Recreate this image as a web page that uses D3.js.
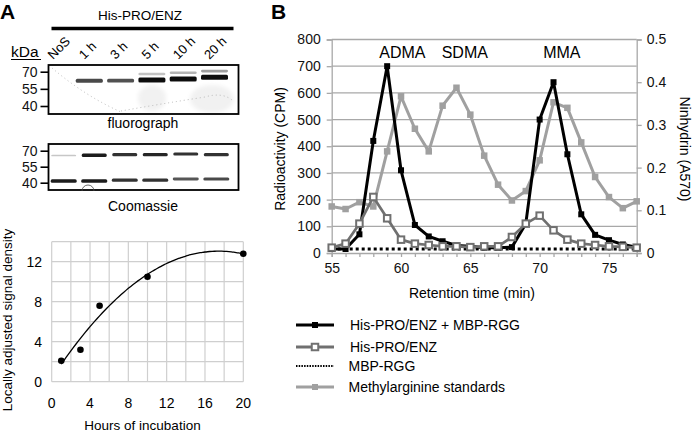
<!DOCTYPE html>
<html>
<head>
<meta charset="utf-8">
<script src="https://cdn.jsdelivr.net/npm/d3@7"></script>
<style>
    body { margin: 0; background: #fff; }
    svg { font-family: "Liberation Sans", Arial, sans-serif; }
</style>
</head>
<body>
<div id="fig"></div>
<script>
// ---- panel B: HPLC of amino acids ----
var minutes = [55, 56, 57, 58, 59, 60, 61, 62, 63, 64, 65, 66, 67, 68, 69, 70, 71, 72, 73, 74, 75, 76, 77];
var enzRgg = [15, 15, 70, 420, 700, 310, 105, 62, 44, 28, 25, 20, 20, 22, 110, 500, 640, 370, 145, 68, 48, 32, 22];
var enzOnly = [20, 35, 110, 210, 130, 50, 35, 30, 25, 25, 22, 25, 25, 60, 110, 140, 85, 50, 35, 30, 25, 23, 20];
var rggOnly = [15, 15, 15, 15, 15, 15, 15, 15, 15, 15, 15, 15, 15, 15, 15, 15, 15, 15, 15, 15, 15, 15, 15];
var standards = [0.109, 0.103, 0.119, 0.109, 0.238, 0.367, 0.291, 0.238, 0.345, 0.387, 0.324, 0.228, 0.16, 0.123, 0.145, 0.217, 0.353, 0.34, 0.259, 0.178, 0.131, 0.105, 0.121];
var peakNames = ["ADMA", "SDMA", "MMA"];
var peakTimes = [60.1, 64.6, 71.6];
var cpmTicks = [0, 100, 200, 300, 400, 500, 600, 700, 800];
var a570Ticks = [0, 0.1, 0.2, 0.3, 0.4, 0.5];
var timeTicks = [55, 60, 65, 70, 75];
var legendNames = ["His-PRO/ENZ + MBP-RGG", "His-PRO/ENZ", "MBP-RGG", "Methylarginine standards"];

// ---- panel A: gels ----
var lanes = ["NoS", "1 h", "3 h", "5 h", "10 h", "20 h"];
var kDaTicks = [70, 55, 40];
var fluoroMainKDa = [null, 62.1, 62.1, 62.7, 63.6, 65.1];
var fluoroMainInt = [0, 0.75, 0.72, 1, 1, 1];
var fluoroUpperKDa = [null, null, null, 68, 69.1, 70.6];
var fluoroUpperInt = [0, 0, 0, 0.22, 0.28, 0.38];
var coomUpperKDa = [65.5, 65.7, 66.3, 66.3, 66.9, 66.3];
var coomUpperInt = [0.2, 0.95, 0.85, 0.9, 0.85, 0.85];
var coomLowerKDa = [41.6, 41.6, 42.5, 42.5, 43.5, 43.5];
var coomLowerInt = [0.95, 0.95, 0.85, 0.85, 0.7, 0.75];

// ---- panel A: densitometry ----
var hours = [1, 3, 5, 10, 20];
var density = [2.1, 3.2, 7.6, 10.5, 12.8];
var hourTicks = [0, 4, 8, 12, 16, 20];
var densityTicks = [0, 4, 8, 12];

var W = 693, H = 434;
var svg = d3.select("#fig").append("svg")
    .attr("width", W)
    .attr("height", H);

var defs = svg.append("defs");
defs.append("filter").attr("id", "soft")
    .attr("x", "-20%").attr("y", "-100%").attr("width", "140%").attr("height", "300%")
    .append("feGaussianBlur").attr("stdDeviation", 0.6);
defs.append("filter").attr("id", "haze")
    .attr("x", "-30%").attr("y", "-30%").attr("width", "160%").attr("height", "160%")
    .append("feGaussianBlur").attr("stdDeviation", 2);

// panel letters
svg.append("text").attr("x", 0).attr("y", 19).style("font-size", "21px").style("font-weight", "bold").text("A");
svg.append("text").attr("x", 271).attr("y", 19).style("font-size", "21px").style("font-weight", "bold").text("B");

// =================== PANEL B ===================
var bx = d3.scaleLinear().domain([55, 77]).range([331.7, 636.7]);
var byL = d3.scaleLinear().domain([0, 800]).range([253, 39.5]);
var byR = d3.scaleLinear().domain([0, 0.5]).range([253, 39.5]);
var gridCol = "#a8a8a8";

var gB = svg.append("g");

// gridlines
gB.selectAll(".gridB")
    .data(cpmTicks.filter(function (d) { return d > 0; }))
    .enter().append("line")
    .attr("x1", bx(55)).attr("x2", bx(77))
    .attr("y1", function (d) { return byL(d); })
    .attr("y2", function (d) { return byL(d); })
    .attr("stroke", gridCol).attr("stroke-width", 1.3);

var axL = gB.append("g")
    .attr("transform", "translate(" + bx(55) + ",0)")
    .call(d3.axisLeft(byL).tickValues(cpmTicks).tickSize(5).tickPadding(6));
var axR = gB.append("g")
    .attr("transform", "translate(" + bx(77) + ",0)")
    .call(d3.axisRight(byR).tickValues(a570Ticks).tickSize(5).tickPadding(5)
        .tickFormat(function (d) { return d === 0 ? "0" : d3.format(".1f")(d); }));
var axB = gB.append("g")
    .attr("transform", "translate(0," + byL(0) + ")")
    .call(d3.axisBottom(bx).tickValues(minutes).tickSize(4).tickPadding(6)
        .tickFormat(function (d) { return timeTicks.indexOf(d) >= 0 ? d : ""; }));

[axL, axR, axB].forEach(function (ax) {
    ax.select(".domain").attr("stroke", gridCol).attr("stroke-width", 1.3);
    ax.selectAll(".tick line").attr("stroke", gridCol).attr("stroke-width", 1.3);
    ax.selectAll(".tick text").style("font-size", "14px").attr("fill", "#111");
    ax.attr("font-family", null);
});

gB.append("text")
    .attr("transform", "translate(285,149) rotate(-90)")
    .attr("text-anchor", "middle")
    .style("font-size", "14px")
    .text("Radioactivity (CPM)");
gB.append("text")
    .attr("transform", "translate(680,149) rotate(90)")
    .attr("text-anchor", "middle")
    .style("font-size", "14px")
    .text("Ninhydrin (A570)");
gB.append("text")
    .attr("x", 472).attr("y", 298)
    .attr("text-anchor", "middle")
    .style("font-size", "14px")
    .text("Retention time (min)");

gB.selectAll(".peak")
    .data(peakNames)
    .enter().append("text")
    .attr("x", function (d, i) { return bx(peakTimes[i]); })
    .attr("y", 58)
    .attr("text-anchor", "middle")
    .style("font-size", "16px")
    .text(function (d) { return d; });

var colBlack = "#000", colOpen = "#707070", colStd = "#a0a0a0";

function drawSeries(vals, yScale, col, width, dash) {
    var line = d3.line()
        .x(function (d, i) { return bx(minutes[i]); })
        .y(function (d) { return yScale(d); });
    gB.append("path")
        .datum(vals)
        .attr("d", line)
        .attr("fill", "none")
        .attr("stroke", col)
        .attr("stroke-width", width)
        .attr("stroke-linejoin", "round")
        .attr("stroke-dasharray", dash || null);
}

function drawMarkers(vals, yScale, size, fill, stroke, sw) {
    gB.append("g").selectAll("rect")
        .data(vals)
        .enter().append("rect")
        .attr("x", function (d, i) { return bx(minutes[i]) - size / 2; })
        .attr("y", function (d) { return yScale(d) - size / 2; })
        .attr("width", size).attr("height", size)
        .attr("fill", fill)
        .attr("stroke", stroke || "none")
        .attr("stroke-width", sw || 0);
}

drawSeries(standards, byR, colStd, 3);
drawMarkers(standards, byR, 6.5, colStd);
drawSeries(rggOnly, byL, colBlack, 3, "3,3");
drawSeries(enzRgg, byL, colBlack, 3);
drawMarkers(enzRgg, byL, 6, colBlack);
drawSeries(enzOnly, byL, colOpen, 2.7);
drawMarkers(enzOnly, byL, 6.5, "#fff", colOpen, 2);

// legend
var legY = [325, 347, 366, 387];
var lg = svg.append("g");
legendNames.forEach(function (name, i) {
    var y = legY[i];
    var col = [colBlack, colOpen, colBlack, colStd][i];
    var l = lg.append("line")
        .attr("x1", 296).attr("x2", 334)
        .attr("y1", y).attr("y2", y)
        .attr("stroke", col);
    if (i === 2) {
        l.attr("stroke-width", 2).attr("stroke-dasharray", "1.5,1.2");
    } else {
        l.attr("stroke-width", 3);
        var s = (i === 1) ? 6.5 : 6;
        lg.append("rect")
            .attr("x", 315 - s / 2).attr("y", y - s / 2)
            .attr("width", s).attr("height", s)
            .attr("fill", i === 1 ? "#fff" : col)
            .attr("stroke", i === 1 ? colOpen : "none")
            .attr("stroke-width", 2);
    }
    lg.append("text")
        .attr("x", i < 2 ? 350 : 348.5)
        .attr("y", y + 5)
        .style("font-size", "14px")
        .text(name);
});

// =================== PANEL A: gels ===================
var gA = svg.append("g");

gA.append("text")
    .attr("x", 140).attr("y", 20)
    .attr("text-anchor", "middle")
    .style("font-size", "13.5px")
    .text("His-PRO/ENZ");
gA.append("line")
    .attr("x1", 51.5).attr("x2", 233.5)
    .attr("y1", 28.5).attr("y2", 28.5)
    .attr("stroke", "#000").attr("stroke-width", 3.5);

var laneX1 = d3.scalePoint().domain(lanes).range([58, 214.5]);
var laneX2 = d3.scalePoint().domain(lanes).range([63.7, 216.3]);

gA.selectAll(".laneLab")
    .data(lanes)
    .enter().append("text")
    .attr("transform", function (d) {
        return "translate(" + (laneX1(d) - 5) + ",60) rotate(-45)";
    })
    .style("font-size", "13px")
    .text(function (d) { return d; });

gA.append("text")
    .attr("x", 11).attr("y", 57)
    .style("font-size", "15.5px")
    .text("kDa");
gA.append("line")
    .attr("x1", 11).attr("x2", 41)
    .attr("y1", 59.5).attr("y2", 59.5)
    .attr("stroke", "#000").attr("stroke-width", 1);

function gel(yTop, yBot, kScale, caption, capY) {
    var g = gA.append("g");
    g.append("rect")
        .attr("x", 48.5).attr("y", yTop)
        .attr("width", 190).attr("height", yBot - yTop)
        .attr("fill", "#fff");
    var ax = g.append("g")
        .attr("transform", "translate(48.5,0)")
        .call(d3.axisLeft(kScale).tickValues(kDaTicks).tickSize(8).tickPadding(3));
    ax.select(".domain").remove();
    ax.selectAll(".tick line").attr("stroke", "#000").attr("stroke-width", 1.6);
    ax.selectAll(".tick text").style("font-size", "14px").attr("fill", "#111");
    ax.attr("font-family", null);
    gA.append("text")
        .attr("x", 143).attr("y", capY)
        .attr("text-anchor", "middle")
        .style("font-size", "14px")
        .text(caption);
    return g;
}

function bands(g, laneScale, kScale, kDa, inten, bw, base, extra) {
    g.append("g").attr("filter", "url(#soft)")
        .selectAll("rect")
        .data(lanes.filter(function (d, i) { return kDa[i] !== null && inten[i] > 0; }))
        .enter().append("rect")
        .attr("x", function (d) { return laneScale(d) - bw / 2; })
        .attr("y", function (d) {
            var i = lanes.indexOf(d);
            var h = base + extra * inten[i];
            return kScale(kDa[i]) - h / 2;
        })
        .attr("width", bw)
        .attr("height", function (d) {
            var i = lanes.indexOf(d);
            return base + extra * inten[i];
        })
        .attr("rx", 1.5)
        .attr("fill", function (d) {
            var v = Math.round(245 * (1 - 0.93 * inten[lanes.indexOf(d)]));
            return "rgb(" + v + "," + v + "," + v + ")";
        });
}

// fluorograph
var k1 = d3.scaleLinear().domain([40, 70]).range([106, 71.7]);
var g1 = gel(65, 114, k1, "fluorograph", 128);
// faint background haze of the film
g1.append("g").attr("filter", "url(#haze)")
    .selectAll("ellipse")
    .data([[152, 98, 14, 13], [212, 99, 22, 14]])
    .enter().append("ellipse")
    .attr("cx", function (d) { return d[0]; })
    .attr("cy", function (d) { return d[1]; })
    .attr("rx", function (d) { return d[2]; })
    .attr("ry", function (d) { return d[3]; })
    .attr("fill", "#f1f1f1");
g1.append("path")
    .attr("d", "M52,68 Q85,96 121,112 M121,111 Q160,104 205,97 Q222,92 232,100")
    .attr("fill", "none")
    .attr("stroke", "#b0b0b0")
    .attr("stroke-width", 0.9)
    .attr("stroke-dasharray", "1,3");
bands(g1, laneX1, k1, fluoroUpperKDa, fluoroUpperInt, 27, 1.8, 2.5);
bands(g1, laneX1, k1, fluoroMainKDa, fluoroMainInt, 27, 0.5, 4.5);
g1.append("rect")
    .attr("x", 48.5).attr("y", 65)
    .attr("width", 190).attr("height", 49)
    .attr("fill", "none").attr("stroke", "#000").attr("stroke-width", 1.8);

// coomassie
var k2 = d3.scaleLinear().domain([40, 70]).range([182.7, 150.7]);
var g2 = gel(144, 190, k2, "Coomassie", 211);
bands(g2, laneX2, k2, coomUpperKDa, coomUpperInt, 25, 1.3, 2.2);
bands(g2, laneX2, k2, coomLowerKDa, coomLowerInt, 26, 1.5, 2);
g2.append("rect")
    .attr("x", 48.5).attr("y", 144)
    .attr("width", 190).attr("height", 46)
    .attr("fill", "none").attr("stroke", "#000").attr("stroke-width", 1.8);
g2.append("path")
    .attr("d", "M82,191 A6,6 0 0 1 94,191")
    .attr("fill", "none").attr("stroke", "#444").attr("stroke-width", 0.8);

// =================== PANEL A: densitometry ===================
var sx = d3.scaleLinear().domain([0, 20]).range([51.7, 243.3]);
var sy = d3.scaleLinear().domain([0, 14]).range([381.7, 241.7]);
var gS = svg.append("g");

gS.selectAll(".vg")
    .data(d3.range(0, 21, 2))
    .enter().append("line")
    .attr("x1", function (d) { return sx(d); })
    .attr("x2", function (d) { return sx(d); })
    .attr("y1", sy(0)).attr("y2", sy(14))
    .attr("stroke", "#cfcfcf").attr("stroke-width", 1.2);
gS.selectAll(".hg")
    .data(d3.range(0, 15, 2))
    .enter().append("line")
    .attr("x1", sx(0)).attr("x2", sx(20))
    .attr("y1", function (d) { return sy(d); })
    .attr("y2", function (d) { return sy(d); })
    .attr("stroke", "#cfcfcf").attr("stroke-width", 1.2);

gS.selectAll(".xl")
    .data(hourTicks)
    .enter().append("text")
    .attr("x", function (d) { return sx(d); })
    .attr("y", 408)
    .attr("text-anchor", "middle")
    .style("font-size", "14px")
    .text(function (d) { return d; });
gS.selectAll(".yl")
    .data(densityTicks)
    .enter().append("text")
    .attr("x", 42)
    .attr("y", function (d) { return sy(d) + 5; })
    .attr("text-anchor", "end")
    .style("font-size", "14px")
    .text(function (d) { return d; });

gS.append("text")
    .attr("x", 142.5).attr("y", 430)
    .attr("text-anchor", "middle")
    .style("font-size", "13.5px")
    .text("Hours of incubation");
gS.append("text")
    .attr("transform", "translate(12,320) rotate(-90)")
    .attr("text-anchor", "middle")
    .style("font-size", "13.5px")
    .text("Locally adjusted signal density");

// second-order polynomial trendline, least squares fit of the points
function quadFit(xs, ys) {
    var s = [0, 0, 0, 0, 0], t = [0, 0, 0];
    xs.forEach(function (x, i) {
        for (var k = 0; k < 5; k++) s[k] += Math.pow(x, k);
        for (var k2 = 0; k2 < 3; k2++) t[k2] += ys[i] * Math.pow(x, k2);
    });
    var M = [[s[0], s[1], s[2], t[0]], [s[1], s[2], s[3], t[1]], [s[2], s[3], s[4], t[2]]];
    for (var c = 0; c < 3; c++) {
        for (var r = c + 1; r < 3; r++) {
            var f = M[r][c] / M[c][c];
            for (var j = c; j < 4; j++) M[r][j] -= f * M[c][j];
        }
    }
    var b = [0, 0, 0];
    for (var r2 = 2; r2 >= 0; r2--) {
        var v = M[r2][3];
        for (var j2 = r2 + 1; j2 < 3; j2++) v -= M[r2][j2] * b[j2];
        b[r2] = v / M[r2][r2];
    }
    return function (x) { return b[0] + b[1] * x + b[2] * x * x; };
}
var fit = quadFit(hours, density);
var fitX = d3.range(hours[0], hours[hours.length - 1] + 0.01, 0.25);
gS.append("path")
    .datum(fitX)
    .attr("d", d3.line()
        .x(function (d) { return sx(d); })
        .y(function (d) { return sy(fit(d)); })
        .curve(d3.curveBasis))
    .attr("fill", "none")
    .attr("stroke", "#000")
    .attr("stroke-width", 1.3);

gS.selectAll(".pt")
    .data(hours)
    .enter().append("circle")
    .attr("cx", function (d) { return sx(d); })
    .attr("cy", function (d, i) { return sy(density[i]); })
    .attr("r", 3.3)
    .attr("fill", "#000");
</script>
</body>
</html>
